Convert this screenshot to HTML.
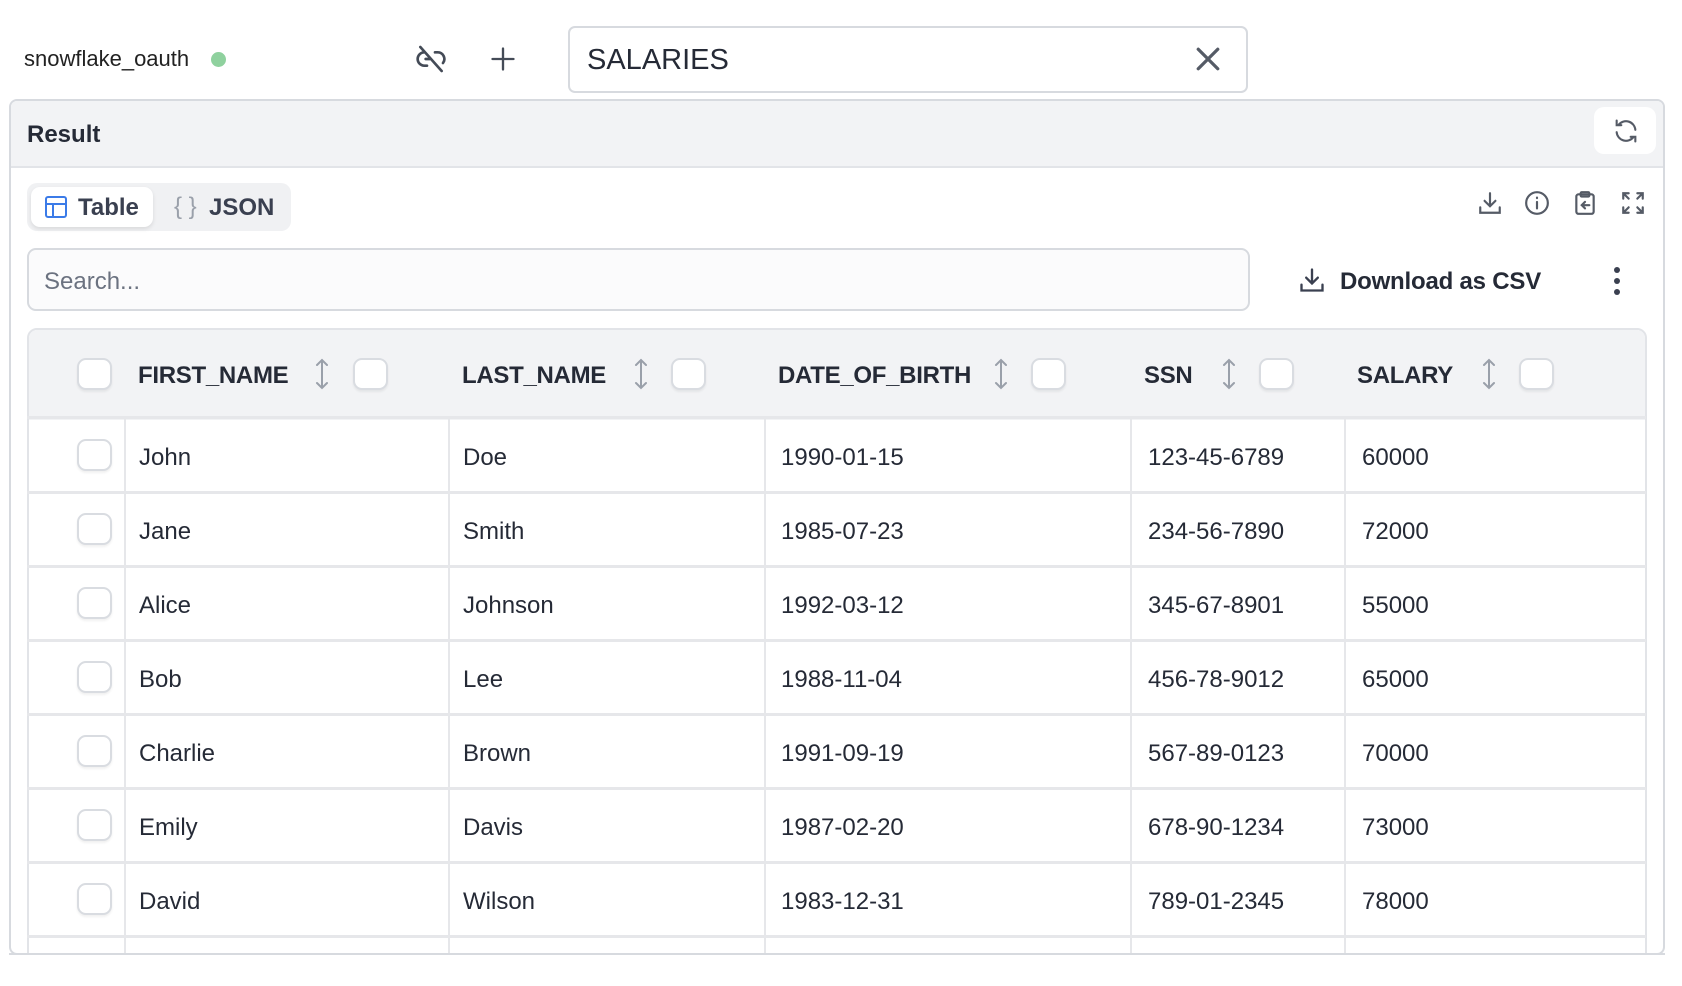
<!DOCTYPE html>
<html><head><meta charset="utf-8"><style>
*{box-sizing:border-box;margin:0;padding:0}
body{width:1682px;height:986px;background:#fff;font-family:"Liberation Sans",sans-serif;color:#1f2330;position:relative;overflow:hidden}
.a{position:absolute}
.t{position:absolute;white-space:nowrap;line-height:1}
.cb{position:absolute;width:35px;height:32px;border:2px solid #d9dce1;border-radius:9px;background:#fff;box-shadow:0 2px 2px rgba(0,0,0,.06)}
.hd{font-weight:bold;font-size:24px;color:#252a36;letter-spacing:-0.3px}
.cell{font-size:24px;color:#252a36}
.vl{position:absolute;top:418px;width:2px;height:536px;background:#e6e7ea}
.hl{position:absolute;left:27px;width:1619px;height:3px;background:#e6e7ea}
.sort{position:absolute;top:358px;width:14px;height:32px}
</style></head><body>
<div class="t" style="left:24px;top:48px;font-size:22px;color:#222">snowflake_oauth</div>
<div class="a" style="left:211px;top:52px;width:15px;height:15px;border-radius:50%;background:#8fd19e"></div>
<svg class="a" style="left:415px;top:43px" width="32" height="32" viewBox="0 0 24 24" fill="none" stroke="#444b57" stroke-width="2" stroke-linecap="round"><path d="M9 17H7A5 5 0 0 1 7 7M15 7h2a5 5 0 0 1 4 8M8 12h3M4 3l16 18"/></svg>
<svg class="a" style="left:489px;top:45px" width="28" height="28" viewBox="0 0 24 24" stroke="#444b57" stroke-width="2" stroke-linecap="round"><path d="M12 3v18M3 12h18"/></svg>
<div class="a" style="left:568px;top:26px;width:680px;height:67px;border:2px solid #d7dadf;border-radius:7px"></div>
<div class="t" style="left:587px;top:46px;font-size:29px;color:#252a36">SALARIES</div>
<svg class="a" style="left:1195px;top:46px" width="26" height="26" viewBox="0 0 24 24" stroke="#555b66" stroke-width="3" stroke-linecap="round"><path d="M3 3l18 18M21 3L3 21"/></svg>

<div class="a" style="left:9px;top:99px;width:1656px;height:856px;border:2px solid #d7dadf;border-radius:8px;overflow:hidden">
 <div class="a" style="left:0;top:0;width:100%;height:67px;background:#f2f3f5;border-bottom:2px solid #e2e4e8"></div>
</div>
<div class="t" style="left:27px;top:123px;font-size:24px;font-weight:bold;color:#252a36">Result</div>
<div class="a" style="left:1594px;top:107px;width:62px;height:47px;background:#fff;border-radius:10px"></div>
<svg class="a" style="left:1612px;top:117px" width="28" height="28" viewBox="0 0 24 24" fill="none" stroke="#555b66" stroke-width="1.8" stroke-linecap="round"><path d="M20 11A8 8 0 0 0 5.5 7M4 3v4h4M4 13a8 8 0 0 0 14.5 4M20 21v-4h-4"/></svg>

<div class="a" style="left:27px;top:183px;width:264px;height:48px;background:#f0f1f3;border-radius:10px"></div>
<div class="a" style="left:31px;top:187px;width:122px;height:40px;background:#fff;border-radius:9px;box-shadow:0 2px 4px rgba(0,0,0,.1)"></div>
<svg class="a" style="left:44px;top:195px" width="24" height="24" viewBox="0 0 24 24" fill="none" stroke="#3b7be8" stroke-width="2"><rect x="2" y="2" width="20" height="20" rx="2"/><path d="M2 9h20M9 9v13"/></svg>
<div class="t" style="left:78px;top:196px;font-size:24px;font-weight:bold;color:#3a4050">Table</div>
<div class="t" style="left:174px;top:195px;font-size:24px;color:#9aa0aa">{ }</div>
<div class="t" style="left:209px;top:196px;font-size:24px;font-weight:bold;color:#3a4050">JSON</div>

<svg class="a" style="left:1477px;top:190px" width="26" height="26" viewBox="0 0 24 24" fill="none" stroke="#555b66" stroke-width="2" stroke-linecap="round"><path d="M12 3v12M7 10l5 5 5-5M3 16v5h18v-5"/></svg>
<svg class="a" style="left:1524px;top:190px" width="26" height="26" viewBox="0 0 24 24" fill="none" stroke="#555b66" stroke-width="2" stroke-linecap="round"><circle cx="12" cy="12" r="10"/><path d="M12 11v6M12 7v.5"/></svg>
<svg class="a" style="left:1572px;top:190px" width="26" height="26" viewBox="0 0 24 24" fill="none" stroke="#555b66" stroke-width="2" stroke-linecap="round"><rect x="4" y="4" width="16" height="18" rx="2"/><rect x="8" y="2" width="8" height="4" rx="1"/><path d="M16 14h-7M12 11l-3 3 3 3"/></svg>
<svg class="a" style="left:1620px;top:190px" width="26" height="26" viewBox="0 0 24 24" fill="none" stroke="#555b66" stroke-width="2" stroke-linecap="round"><path d="M3 8V3h5M3 3l5 5M21 8V3h-5M21 3l-5 5M3 16v5h5M3 21l5-5M21 16v5h-5M21 21l-5-5"/></svg>

<div class="a" style="left:27px;top:248px;width:1223px;height:63px;border:2px solid #d7dadf;border-radius:9px;background:#fbfbfc"></div>
<div class="t" style="left:44px;top:270px;font-size:24px;color:#6b7280">Search...</div>
<svg class="a" style="left:1298px;top:266px" width="28" height="28" viewBox="0 0 24 24" fill="none" stroke="#3a4050" stroke-width="2" stroke-linecap="round"><path d="M12 3v12M7 10l5 5 5-5M3 16v5h18v-5"/></svg>
<div class="t" style="left:1340px;top:270px;font-size:24px;font-weight:bold;color:#252a36;letter-spacing:-0.2px">Download as CSV</div>
<svg class="a" style="left:1612px;top:266px" width="10" height="30"><circle cx="5" cy="4" r="3" fill="#3a4050"/><circle cx="5" cy="15" r="3" fill="#3a4050"/><circle cx="5" cy="26" r="3" fill="#3a4050"/></svg>

<div class="a" style="left:27px;top:328px;width:1620px;height:640px;border:2px solid #e2e4e8;border-radius:10px;overflow:hidden">
 <div class="a" style="left:0;top:0;width:100%;height:90px;background:#f2f3f5"></div>
</div>
<div class="hl" style="top:416px"></div>

<div class="cb" style="left:77px;top:358px"></div>
<div class="t hd" style="left:138px;top:364px">FIRST_NAME</div>
<svg class="sort" style="left:315px" viewBox="0 0 14 32" fill="none" stroke="#9aa0aa" stroke-width="2" stroke-linecap="round"><path d="M7 2v28M2 7l5-5 5 5M2 25l5 5 5-5"/></svg>
<div class="cb" style="left:353px;top:358px"></div>
<div class="t hd" style="left:462px;top:364px">LAST_NAME</div>
<svg class="sort" style="left:634px" viewBox="0 0 14 32" fill="none" stroke="#9aa0aa" stroke-width="2" stroke-linecap="round"><path d="M7 2v28M2 7l5-5 5 5M2 25l5 5 5-5"/></svg>
<div class="cb" style="left:671px;top:358px"></div>
<div class="t hd" style="left:778px;top:364px">DATE_OF_BIRTH</div>
<svg class="sort" style="left:994px" viewBox="0 0 14 32" fill="none" stroke="#9aa0aa" stroke-width="2" stroke-linecap="round"><path d="M7 2v28M2 7l5-5 5 5M2 25l5 5 5-5"/></svg>
<div class="cb" style="left:1031px;top:358px"></div>
<div class="t hd" style="left:1144px;top:364px">SSN</div>
<svg class="sort" style="left:1222px" viewBox="0 0 14 32" fill="none" stroke="#9aa0aa" stroke-width="2" stroke-linecap="round"><path d="M7 2v28M2 7l5-5 5 5M2 25l5 5 5-5"/></svg>
<div class="cb" style="left:1259px;top:358px"></div>
<div class="t hd" style="left:1357px;top:364px">SALARY</div>
<svg class="sort" style="left:1482px" viewBox="0 0 14 32" fill="none" stroke="#9aa0aa" stroke-width="2" stroke-linecap="round"><path d="M7 2v28M2 7l5-5 5 5M2 25l5 5 5-5"/></svg>
<div class="cb" style="left:1519px;top:358px"></div>

<div class="vl" style="left:124px"></div>
<div class="vl" style="left:448px"></div>
<div class="vl" style="left:764px"></div>
<div class="vl" style="left:1130px"></div>
<div class="vl" style="left:1344px"></div>
<div class="a" style="left:9px;top:953px;width:1656px;height:33px;background:#fff;border-top:2px solid #d7dadf"></div>

<div class="hl" style="top:491px"></div>
<div class="hl" style="top:565px"></div>
<div class="hl" style="top:639px"></div>
<div class="hl" style="top:713px"></div>
<div class="hl" style="top:787px"></div>
<div class="hl" style="top:861px"></div>
<div class="hl" style="top:935px"></div>

<div class="cb" style="left:77px;top:439px"></div><div class="t cell" style="left:139px;top:446px">John</div><div class="t cell" style="left:463px;top:446px">Doe</div><div class="t cell" style="left:781px;top:446px">1990-01-15</div><div class="t cell" style="left:1148px;top:446px">123-45-6789</div><div class="t cell" style="left:1362px;top:446px">60000</div>
<div class="cb" style="left:77px;top:513px"></div><div class="t cell" style="left:139px;top:520px">Jane</div><div class="t cell" style="left:463px;top:520px">Smith</div><div class="t cell" style="left:781px;top:520px">1985-07-23</div><div class="t cell" style="left:1148px;top:520px">234-56-7890</div><div class="t cell" style="left:1362px;top:520px">72000</div>
<div class="cb" style="left:77px;top:587px"></div><div class="t cell" style="left:139px;top:594px">Alice</div><div class="t cell" style="left:463px;top:594px">Johnson</div><div class="t cell" style="left:781px;top:594px">1992-03-12</div><div class="t cell" style="left:1148px;top:594px">345-67-8901</div><div class="t cell" style="left:1362px;top:594px">55000</div>
<div class="cb" style="left:77px;top:661px"></div><div class="t cell" style="left:139px;top:668px">Bob</div><div class="t cell" style="left:463px;top:668px">Lee</div><div class="t cell" style="left:781px;top:668px">1988-11-04</div><div class="t cell" style="left:1148px;top:668px">456-78-9012</div><div class="t cell" style="left:1362px;top:668px">65000</div>
<div class="cb" style="left:77px;top:735px"></div><div class="t cell" style="left:139px;top:742px">Charlie</div><div class="t cell" style="left:463px;top:742px">Brown</div><div class="t cell" style="left:781px;top:742px">1991-09-19</div><div class="t cell" style="left:1148px;top:742px">567-89-0123</div><div class="t cell" style="left:1362px;top:742px">70000</div>
<div class="cb" style="left:77px;top:809px"></div><div class="t cell" style="left:139px;top:816px">Emily</div><div class="t cell" style="left:463px;top:816px">Davis</div><div class="t cell" style="left:781px;top:816px">1987-02-20</div><div class="t cell" style="left:1148px;top:816px">678-90-1234</div><div class="t cell" style="left:1362px;top:816px">73000</div>
<div class="cb" style="left:77px;top:883px"></div><div class="t cell" style="left:139px;top:890px">David</div><div class="t cell" style="left:463px;top:890px">Wilson</div><div class="t cell" style="left:781px;top:890px">1983-12-31</div><div class="t cell" style="left:1148px;top:890px">789-01-2345</div><div class="t cell" style="left:1362px;top:890px">78000</div>
</body></html>
